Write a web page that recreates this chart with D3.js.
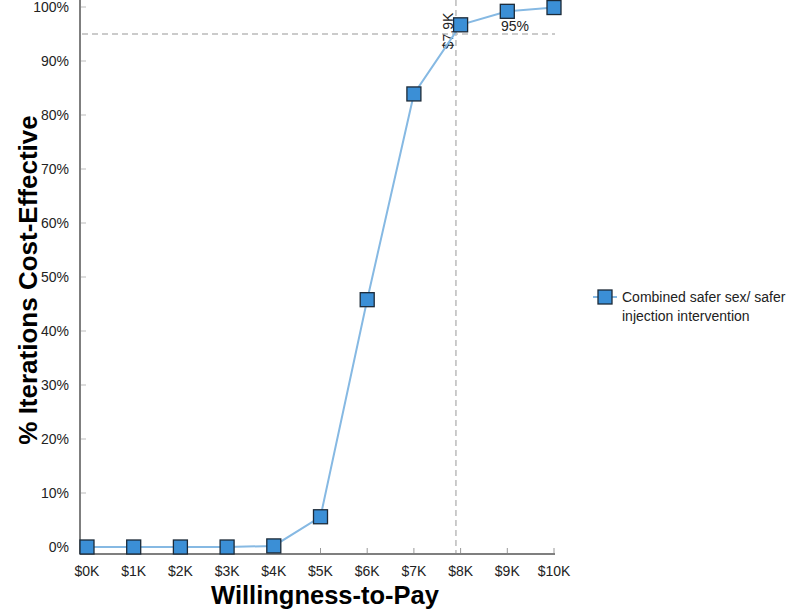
<!DOCTYPE html>
<html>
<head>
<meta charset="utf-8">
<script src="https://cdn.jsdelivr.net/npm/d3@7"></script>
<style>
  body { margin: 0; background: #fff; }
  svg { font-family: "Liberation Sans", Arial, sans-serif; }
</style>
</head>
<body>
<script>
// data
var wtp = [0, 1, 2, 3, 4, 5, 6, 7, 8, 9, 10];            // $K
var pctCE = [0, 0, 0, 0, 0.2, 5.6, 45.8, 83.9, 96.7, 99.2, 99.9];
var xTicks = ["$0K", "$1K", "$2K", "$3K", "$4K", "$5K", "$6K", "$7K", "$8K", "$9K", "$10K"];
var yTicks = [0, 10, 20, 30, 40, 50, 60, 70, 80, 90, 100];
var threshold = 95, thresholdWtp = 7.9;
var seriesName = ["Combined safer sex/ safer", "injection intervention"];

var width = 795, height = 611;

var svg = d3.select("body").append("svg")
    .attr("width", width)
    .attr("height", height);

var x = d3.scaleLinear().domain([0, 10]).range([87, 554]);
var y = d3.scaleLinear().domain([0, 100]).range([547, 7]);

// axes
svg.append("line")
    .attr("x1", 80).attr("x2", 80).attr("y1", 0).attr("y2", 554)
    .attr("stroke", "#555").attr("stroke-width", 1.5);
svg.append("line")
    .attr("x1", 80).attr("x2", 555).attr("y1", 554).attr("y2", 554)
    .attr("stroke", "#555").attr("stroke-width", 1.5);

// y ticks
svg.selectAll(".ytick").data(yTicks).enter().append("line")
    .attr("x1", 81).attr("x2", 86)
    .attr("y1", function(d) { return y(d); }).attr("y2", function(d) { return y(d); })
    .attr("stroke", "#bbb");
svg.selectAll(".ylab").data(yTicks).enter().append("text")
    .attr("x", 69).attr("y", function(d) { return y(d) + 5; })
    .attr("text-anchor", "end")
    .attr("font-size", 14).attr("fill", "#222")
    .text(function(d) { return d + "%"; });

// x ticks
svg.selectAll(".xtick").data(wtp).enter().append("line")
    .attr("x1", function(d) { return x(d); }).attr("x2", function(d) { return x(d); })
    .attr("y1", 548).attr("y2", 553)
    .attr("stroke", "#999");
svg.selectAll(".xlab").data(wtp).enter().append("text")
    .attr("x", function(d) { return x(d); }).attr("y", 576)
    .attr("text-anchor", "middle")
    .attr("font-size", 14).attr("fill", "#222")
    .text(function(d, i) { return xTicks[i]; });

// axis titles
svg.append("text")
    .attr("x", 325).attr("y", 604)
    .attr("text-anchor", "middle")
    .attr("font-size", 25.5).attr("font-weight", "bold")
    .text("Willingness-to-Pay");
svg.append("text")
    .attr("transform", "translate(37,280) rotate(-90)")
    .attr("text-anchor", "middle")
    .attr("font-size", 26).attr("font-weight", "bold")
    .text("% Iterations Cost-Effective");

// threshold lines
svg.append("line")
    .attr("x1", 82).attr("x2", 555).attr("y1", y(threshold)).attr("y2", y(threshold))
    .attr("stroke", "#bbb").attr("stroke-width", 1.5).attr("stroke-dasharray", "6,4");
svg.append("line")
    .attr("x1", x(thresholdWtp)).attr("x2", x(thresholdWtp)).attr("y1", 0).attr("y2", 553)
    .attr("stroke", "#bbb").attr("stroke-width", 1.5).attr("stroke-dasharray", "6,4");
svg.append("text")
    .attr("transform", "translate(" + (x(thresholdWtp) - 3) + ",31) rotate(-90)")
    .attr("text-anchor", "middle")
    .attr("font-size", 14).attr("fill", "#222")
    .text("$" + thresholdWtp + "K");
svg.append("text")
    .attr("x", 515).attr("y", 31)
    .attr("text-anchor", "middle")
    .attr("font-size", 14).attr("fill", "#222")
    .text(threshold + "%");

// series line
var line = d3.line()
    .x(function(d) { return x(d[0]); })
    .y(function(d) { return y(d[1]); });
svg.append("path")
    .datum(d3.zip(wtp, pctCE))
    .attr("d", line)
    .attr("fill", "none")
    .attr("stroke", "#86b9e3").attr("stroke-width", 2);

// markers
var s = 14;
svg.selectAll(".pt").data(d3.zip(wtp, pctCE)).enter().append("rect")
    .attr("x", function(d) { return x(d[0]) - s / 2; })
    .attr("y", function(d) { return y(d[1]) - s / 2; })
    .attr("width", s).attr("height", s)
    .attr("fill", "#3b8fd6").attr("stroke", "#1c2a38").attr("stroke-width", 1.3);

// legend
var lg = svg.append("g").attr("transform", "translate(605,297)");
lg.append("line").attr("x1", -12).attr("x2", 12).attr("stroke", "#86b9e3").attr("stroke-width", 2);
lg.append("rect").attr("x", -7).attr("y", -7).attr("width", 14).attr("height", 14)
    .attr("fill", "#3b8fd6").attr("stroke", "#1c2a38").attr("stroke-width", 1.3);
lg.selectAll("text").data(seriesName).enter().append("text")
    .attr("x", 17).attr("y", function(d, i) { return 5 + i * 19; })
    .attr("font-size", 14).attr("fill", "#222")
    .text(function(d) { return d; });
</script>
</body>
</html>
